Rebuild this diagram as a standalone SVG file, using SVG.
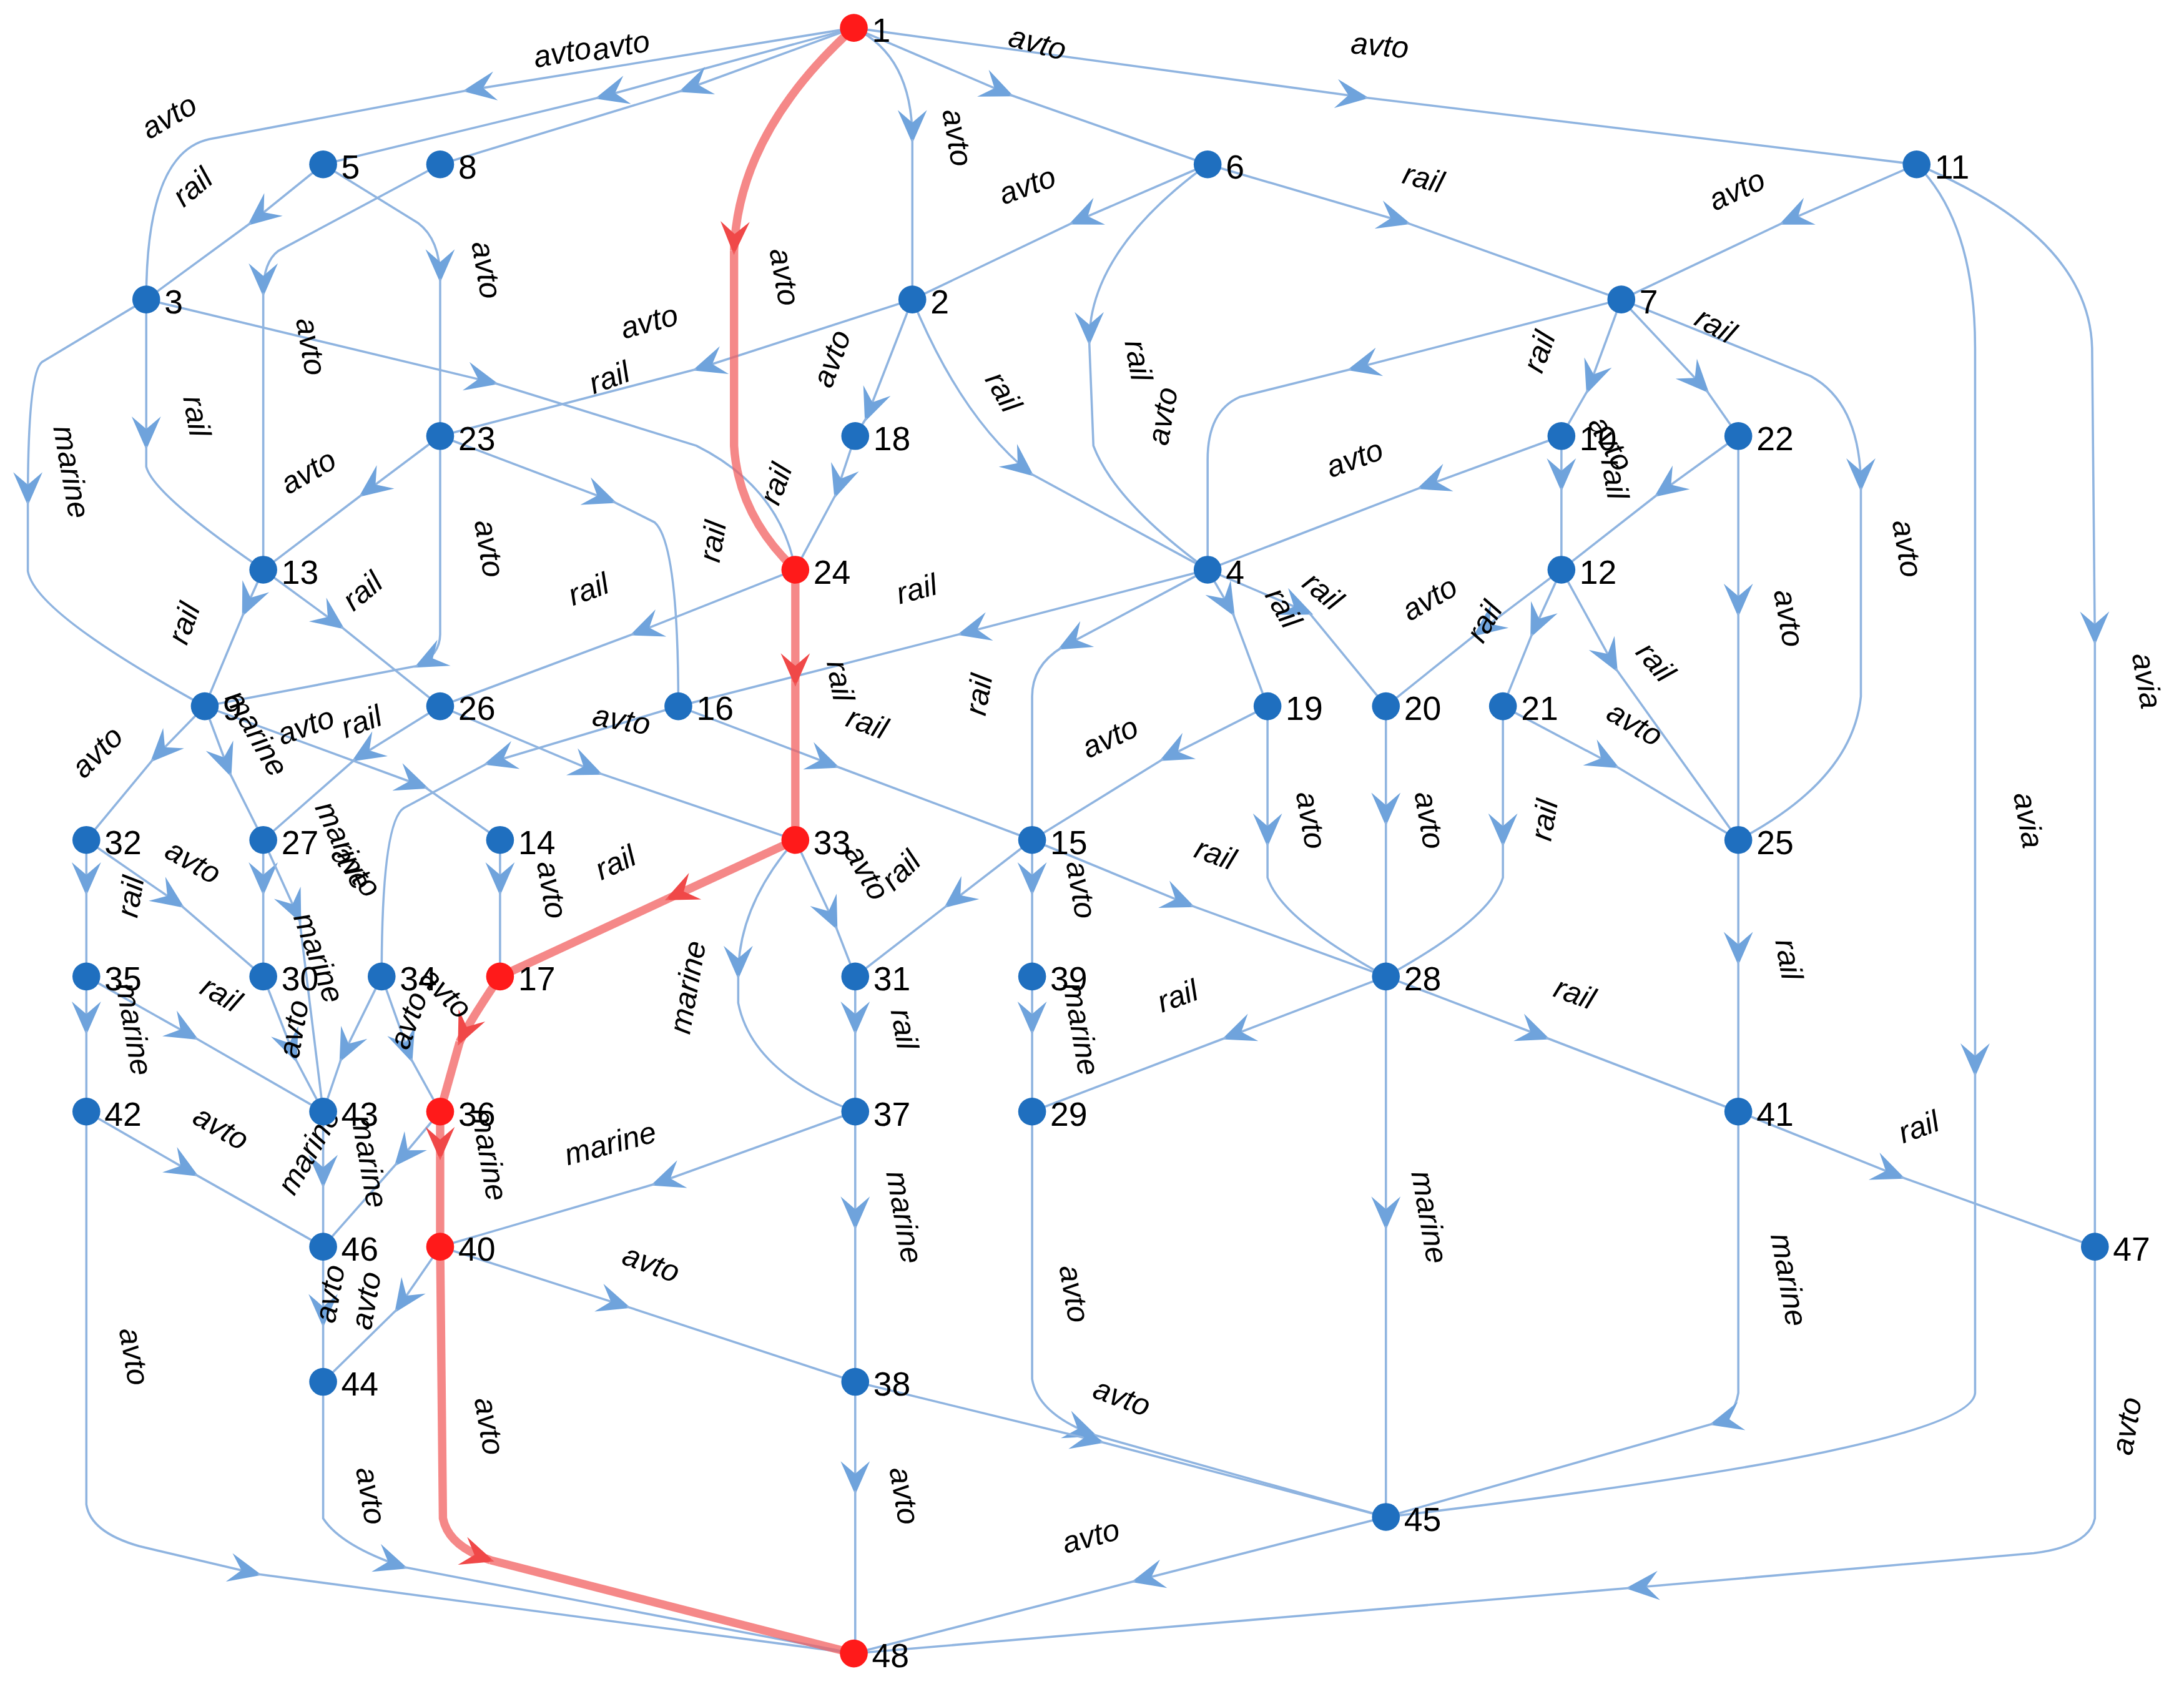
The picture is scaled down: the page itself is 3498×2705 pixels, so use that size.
<svg xmlns="http://www.w3.org/2000/svg" width="3498" height="2705" viewBox="0 0 3498 2705">
<style>
.e{fill:none;stroke:#8fb4e0;stroke-width:1.6}
.a{marker-end:url(#ar)}
.r{fill:none;stroke:#f26060;stroke-opacity:0.75;stroke-width:6;stroke-linejoin:round}
.ra{marker-end:url(#rr)}
.n circle{fill:#1f6fbf}
.n.red circle{fill:#ff1a1a}
.n text{font-family:"Liberation Sans",Arial,sans-serif;font-size:24px;fill:#000}
.l text{font-family:"Liberation Sans",Arial,sans-serif;font-size:22px;font-style:italic;fill:#000}
</style>
<defs>
<marker id="ar" markerUnits="userSpaceOnUse" markerWidth="30" markerHeight="30" viewBox="-16 -8 20 16" refX="0" refY="0" orient="auto"><path d="M2,0 L-14,-7 L-8,0 L-14,7 Z" fill="#6fa3dc"/></marker>
<marker id="rr" markerUnits="userSpaceOnUse" markerWidth="30" markerHeight="30" viewBox="-16 -8 20 16" refX="0" refY="0" orient="auto"><path d="M2,0 L-14,-7 L-8,0 L-14,7 Z" fill="#f04848"/></marker>
</defs>
<rect width="3498" height="2705" fill="#fff"/>
<g transform="scale(2.2309)">
<g id="connectors">
<path class="e a" d="M613,20 L335,65"/><path class="e" d="M335,65 L150,100 Q105,110 105,215"/>
<path class="e a" d="M613,20 L430,70"/><path class="e" d="M430,70 L232,118"/>
<path class="e a" d="M613,20 L490,65"/><path class="e" d="M490,65 L316,118"/>
<path class="e a" d="M613,20 Q655,40 655,100"/><path class="e" d="M655,100 L655,215"/>
<path class="e a" d="M613,20 L725,68"/><path class="e" d="M725,68 L867,118"/>
<path class="e a" d="M613,20 L980,70"/><path class="e" d="M980,70 L1376,118"/>
<path class="e a" d="M232,118 L180,160"/><path class="e" d="M180,160 L105,215"/>
<path class="e a" d="M232,118 L300,160 Q316,172 316,200"/><path class="e" d="M316,200 L316,313"/>
<path class="e a" d="M316,118 L200,180 Q189,188 189,210"/><path class="e" d="M189,210 L189,409"/>
<path class="e a" d="M105,215 L105,320"/><path class="e" d="M105,320 L105,335 Q110,355 189,409"/>
<path class="e a" d="M105,215 L30,260 Q20,268 20,360"/><path class="e" d="M20,360 L20,410 Q25,440 147,507"/>
<path class="e a" d="M105,215 L355,275"/><path class="e" d="M355,275 L500,320 Q560,350 571,409"/>
<path class="e a" d="M867,118 L770,160"/><path class="e" d="M770,160 L655,215"/>
<path class="e a" d="M867,118 L1010,160"/><path class="e" d="M1010,160 L1164,215"/>
<path class="e a" d="M867,118 Q782,180 782,245"/><path class="e" d="M782,245 L785,320 Q800,360 867,409"/>
<path class="e a" d="M1376,118 L1280,160"/><path class="e" d="M1280,160 L1164,215"/>
<path class="e a" d="M1376,118 Q1418,160 1418,250 L1418,770"/><path class="e" d="M1418,770 L1418,1000 Q1415,1040 995,1089"/>
<path class="e a" d="M1376,118 Q1500,170 1502,250 L1504,460"/><path class="e" d="M1504,460 L1504,895"/>
<path class="e a" d="M655,215 L500,265"/><path class="e" d="M500,265 L316,313"/>
<path class="e a" d="M655,215 L622,300"/><path class="e" d="M622,300 L614,313"/>
<path class="e a" d="M655,215 Q690,300 740,340"/><path class="e" d="M740,340 L867,409"/>
<path class="e a" d="M1164,215 L970,265"/><path class="e" d="M970,265 L890,285 Q867,295 867,330 L867,409"/>
<path class="e a" d="M1164,215 L1140,280"/><path class="e" d="M1140,280 L1121,313"/>
<path class="e a" d="M1164,215 L1225,280"/><path class="e" d="M1225,280 L1248,313"/>
<path class="e a" d="M1164,215 L1300,270 Q1336,290 1336,350"/><path class="e" d="M1336,350 L1336,500 Q1330,560 1248,603"/>
<path class="e a" d="M1121,313 L1020,350"/><path class="e" d="M1020,350 L867,409"/>
<path class="e a" d="M1121,313 L1121,350"/><path class="e" d="M1121,350 L1121,409"/>
<path class="e a" d="M1248,313 L1190,355"/><path class="e" d="M1190,355 L1121,409"/>
<path class="e a" d="M1248,313 L1248,440"/><path class="e" d="M1248,440 L1248,603"/>
<path class="e a" d="M316,313 L260,355"/><path class="e" d="M260,355 L189,409"/>
<path class="e a" d="M316,313 L316,455 Q316,470 300,478"/><path class="e" d="M300,478 L147,507"/>
<path class="e a" d="M316,313 L440,360"/><path class="e" d="M440,360 L470,375 Q487,390 487,507"/>
<path class="e a" d="M614,313 L600,355"/><path class="e" d="M600,355 L571,409"/>
<path class="e a" d="M189,409 L175,440"/><path class="e" d="M175,440 L147,507"/>
<path class="e a" d="M189,409 L245,450"/><path class="e" d="M245,450 L316,507"/>
<path class="e a" d="M571,409 L455,455"/><path class="e" d="M455,455 L316,507"/>
<path class="e a" d="M867,409 L690,455"/><path class="e" d="M690,455 L487,507"/>
<path class="e a" d="M867,409 L762,465"/><path class="e" d="M762,465 Q741,478 741,500 L741,603"/>
<path class="e a" d="M867,409 L885,440"/><path class="e" d="M885,440 L910,507"/>
<path class="e a" d="M867,409 L940,440"/><path class="e" d="M940,440 L995,507"/>
<path class="e a" d="M1121,409 L1060,455"/><path class="e" d="M1060,455 L995,507"/>
<path class="e a" d="M1121,409 L1100,455"/><path class="e" d="M1100,455 L1079,507"/>
<path class="e a" d="M1121,409 L1160,480"/><path class="e" d="M1160,480 L1248,603"/>
<path class="e a" d="M147,507 L110,545"/><path class="e" d="M110,545 L62,603"/>
<path class="e a" d="M147,507 L165,555"/><path class="e" d="M165,555 L189,603"/>
<path class="e a" d="M147,507 L305,565"/><path class="e" d="M305,565 L359,603"/>
<path class="e a" d="M316,507 L255,545"/><path class="e" d="M255,545 L189,603"/>
<path class="e a" d="M316,507 L430,555"/><path class="e" d="M430,555 L571,603"/>
<path class="e a" d="M487,507 L350,548"/><path class="e" d="M350,548 L290,580 Q274,590 274,701"/>
<path class="e a" d="M487,507 L600,550"/><path class="e" d="M600,550 L741,603"/>
<path class="e a" d="M910,507 L835,545"/><path class="e" d="M835,545 L741,603"/>
<path class="e a" d="M910,507 L910,605"/><path class="e" d="M910,605 L910,630 Q920,660 995,701"/>
<path class="e a" d="M995,507 L995,590"/><path class="e" d="M995,590 L995,701"/>
<path class="e a" d="M1079,507 L1079,605"/><path class="e" d="M1079,605 L1079,630 Q1070,660 995,701"/>
<path class="e a" d="M1079,507 L1160,550"/><path class="e" d="M1160,550 L1248,603"/>
<path class="e a" d="M62,603 L62,640"/><path class="e" d="M62,640 L62,701"/>
<path class="e a" d="M62,603 L130,650"/><path class="e" d="M130,650 L189,701"/>
<path class="e a" d="M189,603 L189,640"/><path class="e" d="M189,640 L189,701"/>
<path class="e a" d="M189,603 L215,660"/><path class="e" d="M215,660 L232,798"/>
<path class="e a" d="M359,603 L359,640"/><path class="e" d="M359,640 L359,701"/>
<path class="e a" d="M571,603 Q530,650 530,700"/><path class="e" d="M530,700 L530,720 Q540,770 614,798"/>
<path class="e a" d="M571,603 L600,665"/><path class="e" d="M600,665 L614,701"/>
<path class="e a" d="M741,603 L680,650"/><path class="e" d="M680,650 L614,701"/>
<path class="e a" d="M741,603 L741,640"/><path class="e" d="M741,640 L741,701"/>
<path class="e a" d="M741,603 L855,650"/><path class="e" d="M855,650 L995,701"/>
<path class="e a" d="M1248,603 L1248,690"/><path class="e" d="M1248,690 L1248,798"/>
<path class="e a" d="M62,701 L62,740"/><path class="e" d="M62,740 L62,798"/>
<path class="e a" d="M62,701 L140,745"/><path class="e" d="M140,745 L232,798"/>
<path class="e a" d="M189,701 L212,760"/><path class="e" d="M212,760 L232,798"/>
<path class="e a" d="M274,701 L245,760"/><path class="e" d="M245,760 L232,798"/>
<path class="e a" d="M274,701 L295,760"/><path class="e" d="M295,760 L316,798"/>
<path class="e a" d="M614,701 L614,740"/><path class="e" d="M614,740 L614,798"/>
<path class="e a" d="M741,701 L741,740"/><path class="e" d="M741,740 L741,798"/>
<path class="e a" d="M995,701 L880,745"/><path class="e" d="M880,745 L741,798"/>
<path class="e a" d="M995,701 L1110,745"/><path class="e" d="M1110,745 L1248,798"/>
<path class="e a" d="M995,701 L995,880"/><path class="e" d="M995,880 L995,1089"/>
<path class="e a" d="M62,798 L140,843"/><path class="e" d="M140,843 L232,895"/>
<path class="e a" d="M62,798 L62,1080 Q65,1100 100,1110 L185,1130"/><path class="e" d="M185,1130 L613,1187"/>
<path class="e a" d="M232,798 L232,850"/><path class="e" d="M232,850 L232,895"/>
<path class="e a" d="M316,798 L285,835"/><path class="e" d="M285,835 L232,895"/>
<path class="e a" d="M614,798 L470,850"/><path class="e" d="M470,850 L316,895"/>
<path class="e a" d="M614,798 L614,880"/><path class="e" d="M614,880 L614,992"/>
<path class="e a" d="M741,798 L741,990 Q745,1015 785,1030"/><path class="e" d="M785,1030 L995,1089"/>
<path class="e a" d="M1248,798 L1365,845"/><path class="e" d="M1365,845 L1504,895"/>
<path class="e a" d="M1248,798 L1248,1000 Q1245,1018 1230,1022"/><path class="e" d="M1230,1022 L995,1089"/>
<path class="e a" d="M232,895 L232,950"/><path class="e" d="M232,950 L232,992"/>
<path class="e a" d="M316,895 L285,940"/><path class="e" d="M285,940 L232,992"/>
<path class="e a" d="M316,895 L450,938"/><path class="e" d="M450,938 L614,992"/>
<path class="e a" d="M232,992 L232,1090 Q245,1110 290,1125"/><path class="e" d="M290,1125 L613,1187"/>
<path class="e a" d="M614,992 L614,1070"/><path class="e" d="M614,1070 L614,1187"/>
<path class="e a" d="M614,992 L790,1035"/><path class="e" d="M790,1035 L995,1089"/>
<path class="e a" d="M995,1089 L815,1135"/><path class="e" d="M815,1135 L613,1187"/>
<path class="e a" d="M1504,895 L1504,1090 Q1500,1110 1460,1115 L1170,1140"/><path class="e" d="M1170,1140 L613,1187"/>
<path class="r ra" d="M613,20 Q530,95 527,180"/><path class="r" d="M527,180 L527,320 Q530,370 571,409"/>
<path class="r ra" d="M571,409 L571,490"/><path class="r" d="M571,490 L571,603"/>
<path class="r ra" d="M571,603 L480,645"/><path class="r" d="M480,645 L359,701"/>
<path class="r ra" d="M359,701 Q336,735 330,748"/><path class="r" d="M330,748 L316,798"/>
<path class="r ra" d="M316,798 L316,830"/><path class="r" d="M316,830 L316,895"/>
<path class="r ra" d="M316,895 L318,1090 Q322,1110 352,1120"/><path class="r" d="M352,1120 L613,1187"/>
</g>
<g class="l">
<text transform="translate(125,90) rotate(-30)" text-anchor="middle">avto</text>
<text transform="translate(405,45) rotate(-10)" text-anchor="middle">avto</text>
<text transform="translate(447,40) rotate(-10)" text-anchor="middle">avto</text>
<text transform="translate(743,38) rotate(15)" text-anchor="middle">avto</text>
<text transform="translate(990,40) rotate(5)" text-anchor="middle">avto</text>
<text transform="translate(680,100) rotate(80)" text-anchor="middle">avto</text>
<text transform="translate(143,140) rotate(-40)" text-anchor="middle">rail</text>
<text transform="translate(342,195) rotate(80)" text-anchor="middle">avto</text>
<text transform="translate(216,250) rotate(80)" text-anchor="middle">avto</text>
<text transform="translate(556,200) rotate(80)" text-anchor="middle">avto</text>
<text transform="translate(740,140) rotate(-20)" text-anchor="middle">avto</text>
<text transform="translate(1020,135) rotate(15)" text-anchor="middle">rail</text>
<text transform="translate(1250,143) rotate(-25)" text-anchor="middle">avto</text>
<text transform="translate(468,238) rotate(-15)" text-anchor="middle">avto</text>
<text transform="translate(440,278) rotate(-20)" text-anchor="middle">rail</text>
<text transform="translate(604,260) rotate(-70)" text-anchor="middle">avto</text>
<text transform="translate(714,285) rotate(60)" text-anchor="middle">rail</text>
<text transform="translate(810,260) rotate(80)" text-anchor="middle">rail</text>
<text transform="translate(842,300) rotate(-80)" text-anchor="middle">avto</text>
<text transform="translate(1112,255) rotate(-70)" text-anchor="middle">rail</text>
<text transform="translate(1228,240) rotate(30)" text-anchor="middle">rail</text>
<text transform="translate(134,300) rotate(80)" text-anchor="middle">rail</text>
<text transform="translate(44,340) rotate(80)" text-anchor="middle">marine</text>
<text transform="translate(225,345) rotate(-30)" text-anchor="middle">avto</text>
<text transform="translate(344,395) rotate(80)" text-anchor="middle">avto</text>
<text transform="translate(519,390) rotate(-80)" text-anchor="middle">rail</text>
<text transform="translate(564,350) rotate(-70)" text-anchor="middle">rail</text>
<text transform="translate(975,336) rotate(-20)" text-anchor="middle">avto</text>
<text transform="translate(1150,322) rotate(60)" text-anchor="middle">avto</text>
<text transform="translate(1152,345) rotate(80)" text-anchor="middle">rail</text>
<text transform="translate(1362,395) rotate(80)" text-anchor="middle">avto</text>
<text transform="translate(1277,445) rotate(80)" text-anchor="middle">avto</text>
<text transform="translate(139,450) rotate(-70)" text-anchor="middle">rail</text>
<text transform="translate(265,430) rotate(-40)" text-anchor="middle">rail</text>
<text transform="translate(425,430) rotate(-20)" text-anchor="middle">rail</text>
<text transform="translate(660,430) rotate(-15)" text-anchor="middle">rail</text>
<text transform="translate(945,430) rotate(40)" text-anchor="middle">rail</text>
<text transform="translate(915,440) rotate(60)" text-anchor="middle">rail</text>
<text transform="translate(1030,436) rotate(-30)" text-anchor="middle">avto</text>
<text transform="translate(1072,450) rotate(-60)" text-anchor="middle">rail</text>
<text transform="translate(1183,480) rotate(50)" text-anchor="middle">rail</text>
<text transform="translate(75,545) rotate(-45)" text-anchor="middle">avto</text>
<text transform="translate(178,530) rotate(60)" text-anchor="middle">marine</text>
<text transform="translate(222,528) rotate(-20)" text-anchor="middle">avto</text>
<text transform="translate(262,525) rotate(-20)" text-anchor="middle">rail</text>
<text transform="translate(445,524) rotate(10)" text-anchor="middle">avto</text>
<text transform="translate(596,490) rotate(80)" text-anchor="middle">rail</text>
<text transform="translate(620,526) rotate(20)" text-anchor="middle">rail</text>
<text transform="translate(710,500) rotate(-80)" text-anchor="middle">rail</text>
<text transform="translate(800,536) rotate(-25)" text-anchor="middle">avto</text>
<text transform="translate(1170,526) rotate(30)" text-anchor="middle">avto</text>
<text transform="translate(240,610) rotate(65)" text-anchor="middle">marine</text>
<text transform="translate(135,625) rotate(30)" text-anchor="middle">avto</text>
<text transform="translate(250,630) rotate(50)" text-anchor="middle">avto</text>
<text transform="translate(389,640) rotate(80)" text-anchor="middle">avto</text>
<text transform="translate(445,626) rotate(-25)" text-anchor="middle">rail</text>
<text transform="translate(616,630) rotate(60)" text-anchor="middle">avto</text>
<text transform="translate(652,630) rotate(-45)" text-anchor="middle">rail</text>
<text transform="translate(769,640) rotate(80)" text-anchor="middle">avto</text>
<text transform="translate(870,620) rotate(20)" text-anchor="middle">rail</text>
<text transform="translate(934,590) rotate(80)" text-anchor="middle">avto</text>
<text transform="translate(1019,590) rotate(80)" text-anchor="middle">avto</text>
<text transform="translate(1116,590) rotate(-80)" text-anchor="middle">rail</text>
<text transform="translate(1277,690) rotate(80)" text-anchor="middle">rail</text>
<text transform="translate(101,645) rotate(-80)" text-anchor="middle">rail</text>
<text transform="translate(155,720) rotate(30)" text-anchor="middle">rail</text>
<text transform="translate(89,740) rotate(80)" text-anchor="middle">marine</text>
<text transform="translate(222,690) rotate(70)" text-anchor="middle">marine</text>
<text transform="translate(218,740) rotate(-80)" text-anchor="middle">avto</text>
<text transform="translate(300,735) rotate(-70)" text-anchor="middle">avto</text>
<text transform="translate(315,718) rotate(45)" text-anchor="middle">avto</text>
<text transform="translate(501,710) rotate(-80)" text-anchor="middle">marine</text>
<text transform="translate(642,740) rotate(80)" text-anchor="middle">rail</text>
<text transform="translate(769,740) rotate(80)" text-anchor="middle">marine</text>
<text transform="translate(848,722) rotate(-20)" text-anchor="middle">rail</text>
<text transform="translate(1128,720) rotate(20)" text-anchor="middle">rail</text>
<text transform="translate(155,816) rotate(30)" text-anchor="middle">avto</text>
<text transform="translate(228,830) rotate(-60)" text-anchor="middle">marine</text>
<text transform="translate(258,835) rotate(80)" text-anchor="middle">marine</text>
<text transform="translate(344,830) rotate(80)" text-anchor="middle">marine</text>
<text transform="translate(440,828) rotate(-15)" text-anchor="middle">marine</text>
<text transform="translate(642,875) rotate(80)" text-anchor="middle">marine</text>
<text transform="translate(1019,875) rotate(80)" text-anchor="middle">marine</text>
<text transform="translate(1277,920) rotate(80)" text-anchor="middle">marine</text>
<text transform="translate(1380,816) rotate(-20)" text-anchor="middle">rail</text>
<text transform="translate(465,914) rotate(20)" text-anchor="middle">avto</text>
<text transform="translate(89,975) rotate(80)" text-anchor="middle">avto</text>
<text transform="translate(764,930) rotate(80)" text-anchor="middle">avto</text>
<text transform="translate(244,930) rotate(-80)" text-anchor="middle">avto</text>
<text transform="translate(270,935) rotate(-80)" text-anchor="middle">avto</text>
<text transform="translate(803,1010) rotate(20)" text-anchor="middle">avto</text>
<text transform="translate(344,1025) rotate(80)" text-anchor="middle">avto</text>
<text transform="translate(259,1075) rotate(80)" text-anchor="middle">avto</text>
<text transform="translate(642,1075) rotate(80)" text-anchor="middle">avto</text>
<text transform="translate(785,1110) rotate(-15)" text-anchor="middle">avto</text>
<text transform="translate(1534,1025) rotate(-80)" text-anchor="middle">avto</text>
<text transform="translate(1449,590) rotate(80)" text-anchor="middle">avia</text>
<text transform="translate(1534,490) rotate(80)" text-anchor="middle">avia</text>
</g>
<g id="n1" class="n red"><circle cx="613" cy="20" r="10"/><text x="626" y="30">1</text></g>
<g id="n5" class="n"><circle cx="232" cy="118" r="10"/><text x="245" y="128">5</text></g>
<g id="n8" class="n"><circle cx="316" cy="118" r="10"/><text x="329" y="128">8</text></g>
<g id="n6" class="n"><circle cx="867" cy="118" r="10"/><text x="880" y="128">6</text></g>
<g id="n11" class="n"><circle cx="1376" cy="118" r="10"/><text x="1389" y="128">11</text></g>
<g id="n3" class="n"><circle cx="105" cy="215" r="10"/><text x="118" y="225">3</text></g>
<g id="n2" class="n"><circle cx="655" cy="215" r="10"/><text x="668" y="225">2</text></g>
<g id="n7" class="n"><circle cx="1164" cy="215" r="10"/><text x="1177" y="225">7</text></g>
<g id="n23" class="n"><circle cx="316" cy="313" r="10"/><text x="329" y="323">23</text></g>
<g id="n18" class="n"><circle cx="614" cy="313" r="10"/><text x="627" y="323">18</text></g>
<g id="n10" class="n"><circle cx="1121" cy="313" r="10"/><text x="1134" y="323">10</text></g>
<g id="n22" class="n"><circle cx="1248" cy="313" r="10"/><text x="1261" y="323">22</text></g>
<g id="n13" class="n"><circle cx="189" cy="409" r="10"/><text x="202" y="419">13</text></g>
<g id="n24" class="n red"><circle cx="571" cy="409" r="10"/><text x="584" y="419">24</text></g>
<g id="n4" class="n"><circle cx="867" cy="409" r="10"/><text x="880" y="419">4</text></g>
<g id="n12" class="n"><circle cx="1121" cy="409" r="10"/><text x="1134" y="419">12</text></g>
<g id="n9" class="n"><circle cx="147" cy="507" r="10"/><text x="160" y="517">9</text></g>
<g id="n26" class="n"><circle cx="316" cy="507" r="10"/><text x="329" y="517">26</text></g>
<g id="n16" class="n"><circle cx="487" cy="507" r="10"/><text x="500" y="517">16</text></g>
<g id="n19" class="n"><circle cx="910" cy="507" r="10"/><text x="923" y="517">19</text></g>
<g id="n20" class="n"><circle cx="995" cy="507" r="10"/><text x="1008" y="517">20</text></g>
<g id="n21" class="n"><circle cx="1079" cy="507" r="10"/><text x="1092" y="517">21</text></g>
<g id="n32" class="n"><circle cx="62" cy="603" r="10"/><text x="75" y="613">32</text></g>
<g id="n27" class="n"><circle cx="189" cy="603" r="10"/><text x="202" y="613">27</text></g>
<g id="n14" class="n"><circle cx="359" cy="603" r="10"/><text x="372" y="613">14</text></g>
<g id="n33" class="n red"><circle cx="571" cy="603" r="10"/><text x="584" y="613">33</text></g>
<g id="n15" class="n"><circle cx="741" cy="603" r="10"/><text x="754" y="613">15</text></g>
<g id="n25" class="n"><circle cx="1248" cy="603" r="10"/><text x="1261" y="613">25</text></g>
<g id="n35" class="n"><circle cx="62" cy="701" r="10"/><text x="75" y="711">35</text></g>
<g id="n30" class="n"><circle cx="189" cy="701" r="10"/><text x="202" y="711">30</text></g>
<g id="n34" class="n"><circle cx="274" cy="701" r="10"/><text x="287" y="711">34</text></g>
<g id="n17" class="n red"><circle cx="359" cy="701" r="10"/><text x="372" y="711">17</text></g>
<g id="n31" class="n"><circle cx="614" cy="701" r="10"/><text x="627" y="711">31</text></g>
<g id="n39" class="n"><circle cx="741" cy="701" r="10"/><text x="754" y="711">39</text></g>
<g id="n28" class="n"><circle cx="995" cy="701" r="10"/><text x="1008" y="711">28</text></g>
<g id="n42" class="n"><circle cx="62" cy="798" r="10"/><text x="75" y="808">42</text></g>
<g id="n43" class="n"><circle cx="232" cy="798" r="10"/><text x="245" y="808">43</text></g>
<g id="n36" class="n red"><circle cx="316" cy="798" r="10"/><text x="329" y="808">36</text></g>
<g id="n37" class="n"><circle cx="614" cy="798" r="10"/><text x="627" y="808">37</text></g>
<g id="n29" class="n"><circle cx="741" cy="798" r="10"/><text x="754" y="808">29</text></g>
<g id="n41" class="n"><circle cx="1248" cy="798" r="10"/><text x="1261" y="808">41</text></g>
<g id="n46" class="n"><circle cx="232" cy="895" r="10"/><text x="245" y="905">46</text></g>
<g id="n40" class="n red"><circle cx="316" cy="895" r="10"/><text x="329" y="905">40</text></g>
<g id="n47" class="n"><circle cx="1504" cy="895" r="10"/><text x="1517" y="905">47</text></g>
<g id="n44" class="n"><circle cx="232" cy="992" r="10"/><text x="245" y="1002">44</text></g>
<g id="n38" class="n"><circle cx="614" cy="992" r="10"/><text x="627" y="1002">38</text></g>
<g id="n45" class="n"><circle cx="995" cy="1089" r="10"/><text x="1008" y="1099">45</text></g>
<g id="n48" class="n red"><circle cx="613" cy="1187" r="10"/><text x="626" y="1197">48</text></g>
</g>
</svg>
